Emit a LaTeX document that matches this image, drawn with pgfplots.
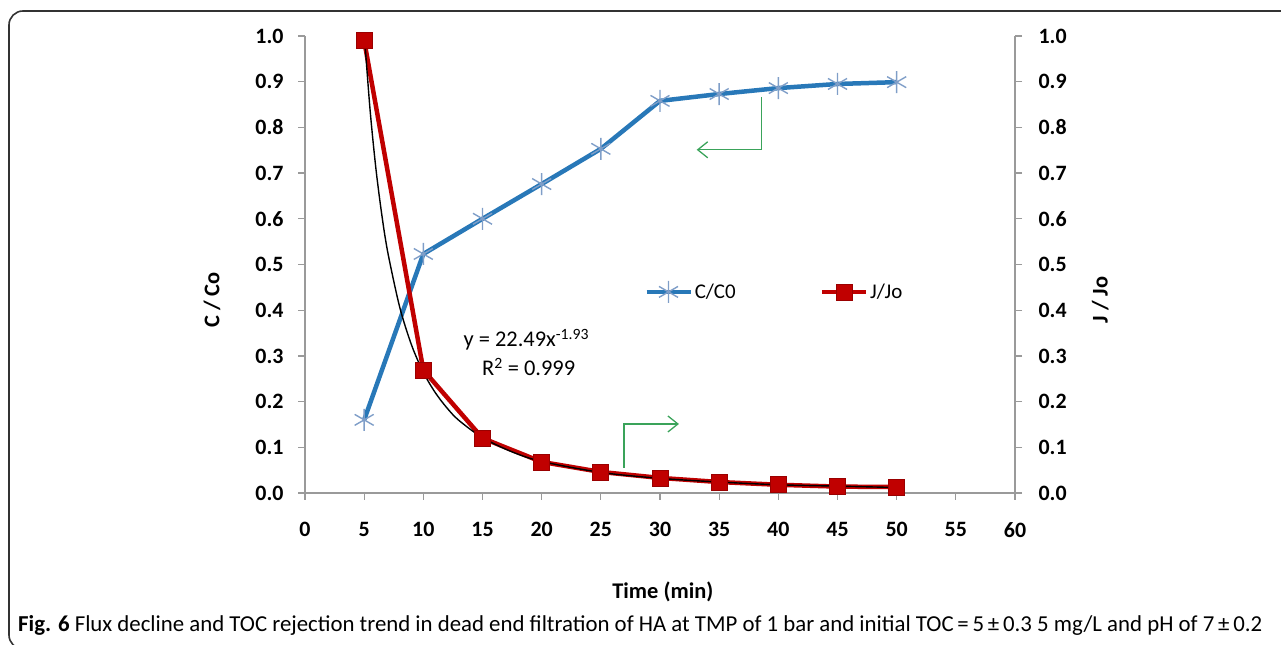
\documentclass[border=0pt]{standalone}
\usepackage{pgfplots}
\pgfplotsset{compat=1.18}
\usepackage{fontspec}
\setmainfont{Carlito}
\usetikzlibrary{arrows.meta}
\definecolor{cblue}{HTML}{2878B8}
\definecolor{cmark}{HTML}{7F9EC8}
\definecolor{cred}{HTML}{C00000}
\definecolor{cgreen}{HTML}{3AA35A}
\definecolor{axgray}{HTML}{9A9A9A}
\begin{document}
\begin{tikzpicture}[x=1bp,y=1bp]
\useasboundingbox (0,0) rectangle (1281,645);
\draw[line width=1.6bp, color=black!80, rounded corners=14bp] (1300,634) -- (9,634) -- (9,-4) -- (1300,-4);
\node[anchor=west, inner sep=0pt, font=\fontsize{22.9}{26}\selectfont] at (18,20) {\textbf{Fig. 6} Flux decline and TOC rejection trend in dead end filtration of HA at TMP of 1 bar and initial TOC\,=\,5\,±\,0.3 5 mg/L and pH of 7\,±\,0.2};
\begin{axis}[
  at={(305bp,152bp)}, anchor=south west,
  scale only axis, width=710bp, height=457bp,
  xmin=0, xmax=60, ymin=0, ymax=1,
  axis x line*=bottom, axis y line*=left,
  axis line style={color=axgray, line width=1.5bp, -},
  tick align=outside, major tick length=7bp,
  tick style={color=axgray, line width=1.3bp},
  xtick={0,5,...,60}, ytick={0,0.1,...,1.0},
  /pgf/number format/assume math mode=true,
  ticklabel style={font=\fontsize{22}{26}\selectfont\bfseries},
  yticklabel style={/pgf/number format/fixed, /pgf/number format/fixed zerofill, /pgf/number format/precision=1, xshift=-11bp},
  xticklabel style={yshift=-19bp},
  xlabel={Time (min)}, ylabel={C / Co},
  label style={font=\fontsize{22.5}{26}\selectfont\bfseries},
  xlabel style={at={(axis description cs:0.504,-0.217)}, anchor=center},
  ylabel style={at={(axis description cs:-0.131,0.422)}, anchor=center},
  clip=false,
  legend columns=2,
  legend style={at={(axis cs:28.4,0.44)}, anchor=west, draw=none, fill=none,
    font=\fontsize{21}{24}\selectfont, column sep=0bp,
    /tikz/every even column/.append style={column sep=82bp}},
  legend image code/.code={\draw[mark repeat=2,mark phase=2,#1] plot coordinates {(0bp,0bp) (22bp,0bp) (44bp,0bp)};},
]
\addplot[color=cblue, line width=4.5bp, mark=asterisk, mark size=11bp,
  mark options={color=cmark, line width=1.4bp}]
  coordinates {(5,0.160) (10,0.523) (15,0.600) (20,0.676) (25,0.753) (30,0.858) (35,0.873) (40,0.886) (45,0.895) (50,0.899)};
\addlegendentry{C/C0}
\addplot[color=cred, line width=4.5bp, mark=square*, mark size=8bp,
  mark options={fill=cred, draw=cred!80!black, line width=0.8bp}]
  coordinates {(5,0.990) (10,0.269) (15,0.120) (20,0.068) (25,0.046) (30,0.033) (35,0.024) (40,0.018) (45,0.014) (50,0.013)};
\addlegendentry{J/Jo}
\addplot[color=black, line width=1.4bp, smooth, forget plot]
  coordinates {(5,1.007) (5.5,0.838) (6,0.708) (6.5,0.607) (7,0.526) (8,0.407) (9,0.324) (10,0.264) (11,0.220) (12,0.186) (13,0.159) (15,0.121) (17.5,0.090) (20,0.069) (25,0.045) (30,0.032) (35,0.024) (40,0.018) (45,0.015) (50,0.012)};
\node[font=\fontsize{22.5}{26}\selectfont, anchor=center] at (axis cs:18.7,0.335) {y = 22.49x\textsuperscript{-1.93}};
\node[font=\fontsize{22.5}{26}\selectfont, anchor=center] at (axis cs:18.9,0.276) {R\textsuperscript{2} = 0.999};
\draw[color=cgreen, line width=1.3bp, -{Straight Barb[length=10bp,width=16bp]}] (axis cs:38.6,0.867) -- (axis cs:38.6,0.751) -- (axis cs:33.1,0.751);
\draw[color=cgreen, line width=1.3bp, -{Straight Barb[length=10bp,width=16bp]}] (axis cs:26.96,0.055) -- (axis cs:26.96,0.151) -- (axis cs:31.6,0.151);
\end{axis}
\begin{axis}[
  at={(305bp,152bp)}, anchor=south west,
  scale only axis, width=710bp, height=457bp,
  xmin=0, xmax=60, ymin=0, ymax=1,
  axis x line=none, axis y line*=right,
  axis line style={color=axgray, line width=1.5bp, -},
  tick align=outside, major tick length=7bp,
  tick style={color=axgray, line width=1.3bp},
  ytick={0,0.1,...,1.0},
  /pgf/number format/assume math mode=true,
  ticklabel style={font=\fontsize{22}{26}\selectfont\bfseries},
  yticklabel style={/pgf/number format/fixed, /pgf/number format/fixed zerofill, /pgf/number format/precision=1, xshift=13bp},
  ylabel={J / Jo},
  label style={font=\fontsize{22.5}{26}\selectfont\bfseries},
  ylabel style={at={(axis description cs:1.12,0.422)}, anchor=center},
]
\end{axis}
\end{tikzpicture}
\end{document}
